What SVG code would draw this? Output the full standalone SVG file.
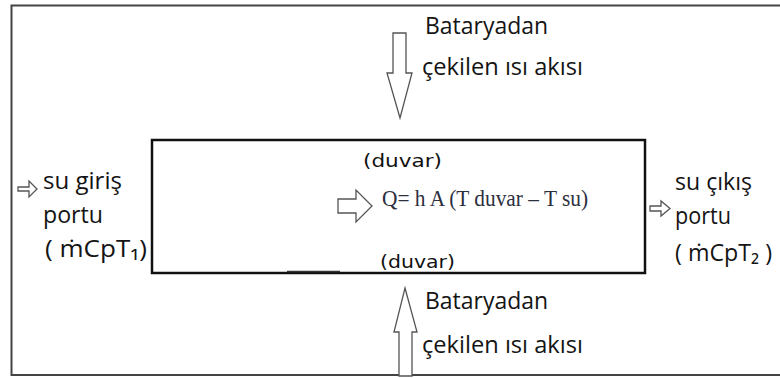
<svg xmlns="http://www.w3.org/2000/svg" width="780" height="378" viewBox="0 0 780 378">
<style>
.lbl{font-family:"Open Sans","Noto Sans","DejaVu Sans",sans-serif;font-size:24px;fill:#141414}
.wall{font-family:"DejaVu Sans","Liberation Sans",sans-serif;font-size:18px;fill:#111}
.eq{font-family:"Liberation Serif","Times New Roman",serif;font-size:23px;fill:#2c2f3e}
.arr{fill:#fff;stroke:#555;stroke-width:1.3;stroke-linejoin:miter}
</style>
<rect x="0" y="0" width="780" height="378" fill="#fff"/>
<g id="frame">
<path d="M790 5.5 H11.5 V375 H790" fill="none" stroke="#444" stroke-width="2"/>
</g>
<g id="channel">
<rect x="152" y="140" width="493" height="133" fill="#fff" stroke="#111" stroke-width="2.5"/>
<line x1="287" y1="271.5" x2="340" y2="271.5" stroke="#333" stroke-width="1.5"/>
<text class="wall" x="363" y="167" textLength="79" lengthAdjust="spacingAndGlyphs">(duvar)</text>
<text class="wall" x="380" y="268" textLength="75" lengthAdjust="spacingAndGlyphs">(duvar)</text>
<text class="eq" x="382" y="206" textLength="206" lengthAdjust="spacingAndGlyphs">Q= h A (T duvar – T su)</text>
</g>
<g id="top-flux">
<text class="lbl" x="425" y="34" textLength="123" lengthAdjust="spacingAndGlyphs">Bataryadan</text>
<text class="lbl" x="422" y="75" textLength="161" lengthAdjust="spacingAndGlyphs">çekilen ısı akısı</text>
</g>
<g id="bottom-flux">
<text class="lbl" x="425" y="309" textLength="123" lengthAdjust="spacingAndGlyphs">Bataryadan</text>
<text class="lbl" x="422" y="353" textLength="161" lengthAdjust="spacingAndGlyphs">çekilen ısı akısı</text>
</g>
<g id="inlet">
<text class="lbl" x="43" y="189" textLength="79" lengthAdjust="spacingAndGlyphs">su giriş</text>
<text class="lbl" x="43" y="223" textLength="60" lengthAdjust="spacingAndGlyphs">portu</text>
<text class="lbl" x="45" y="257" textLength="102" lengthAdjust="spacingAndGlyphs">( ṁCpT₁)</text>
</g>
<g id="outlet">
<text class="lbl" x="675" y="190" textLength="77" lengthAdjust="spacingAndGlyphs">su çıkış</text>
<text class="lbl" x="675" y="224" textLength="56" lengthAdjust="spacingAndGlyphs">portu</text>
<text class="lbl" x="675" y="261" textLength="97" lengthAdjust="spacingAndGlyphs">( ṁCpT₂ )</text>
</g>
<g id="connectors">
<polygon class="arr" points="393,33 406,33 406,73 412,73 400,118 387,73 393,73"/>
<polygon class="arr" points="405,288 417,332 412,332 412,376 399,376 399,332 394,332"/>
<polygon class="arr" points="338,199 356,199 356,190 372,206 356,222 356,213 338,213"/>
<polygon class="arr" points="18,187 29,187 29,181 37,189 29,197 29,191 18,191"/>
<polygon class="arr" points="650,206 661,206 661,201 670,208.5 661,216 661,211 650,211"/>
</g>
</svg>
